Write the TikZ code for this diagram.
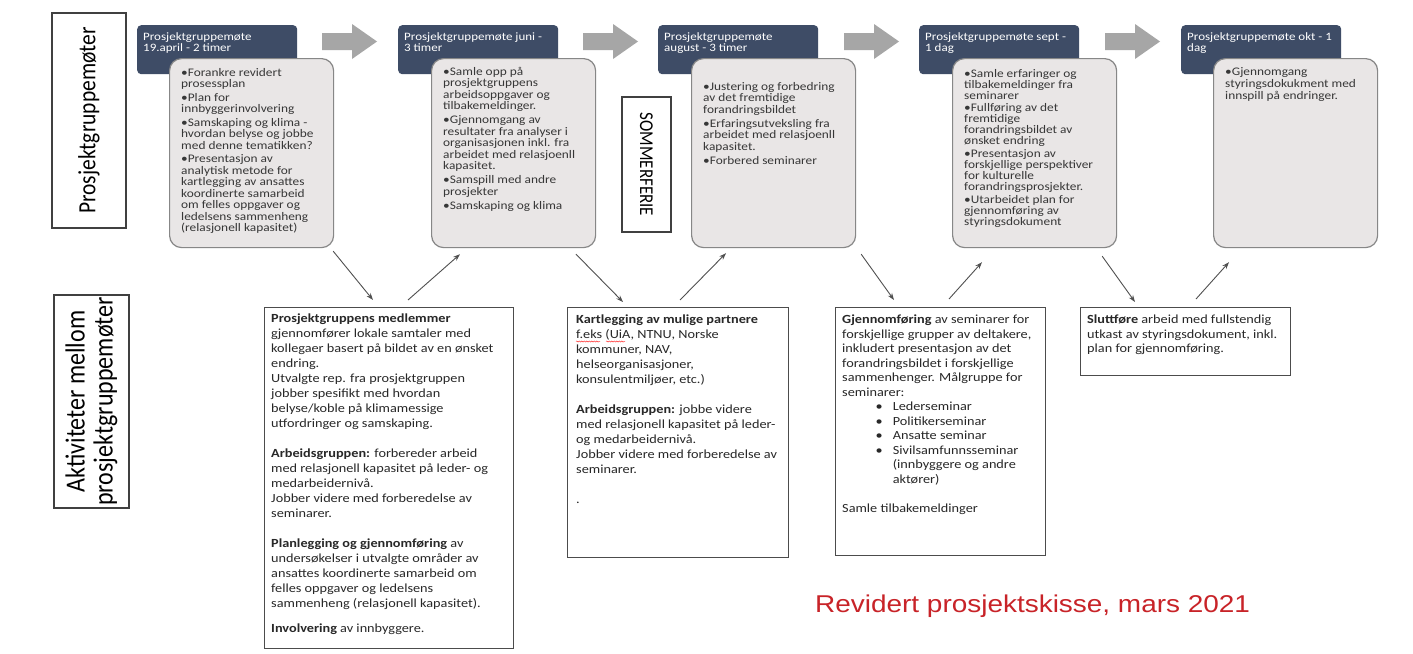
\documentclass[tikz,border=0pt]{standalone}
\usepackage{fontspec}
\setmainfont{Carlito}
\newfontfamily\arialf{Liberation Sans}
\usepackage{graphicx}
\usetikzlibrary{arrows.meta,calc,decorations.pathmorphing}
\definecolor{hdr}{RGB}{62,76,102}
\definecolor{garrow}{RGB}{166,166,166}
\definecolor{gfill}{RGB}{233,230,230}
\definecolor{gline}{RGB}{135,135,135}
\definecolor{ttxt}{RGB}{55,55,55}
\definecolor{btxt}{RGB}{40,40,40}
\definecolor{titred}{RGB}{200,35,40}
\definecolor{conncol}{RGB}{80,80,80}
\newcommand{\tb}[4]{\scalebox{1.15}[1]{\parbox[t]{#1}{\fontsize{#2}{#3}\selectfont\lineskiplimit=-100pt\lineskip=0pt\raggedright #4}}}
\begin{document}
\begin{tikzpicture}[x=1pt,y=-1pt,
  hdrbox/.style={rectangle, rounded corners=4pt, fill=hdr, minimum width=160pt, minimum height=49pt, inner sep=0pt, anchor=north west},
  graybox/.style={rectangle, rounded corners=12pt, fill=gfill, draw=gline, line width=1.2pt, minimum width=164pt, minimum height=189pt, inner sep=0pt, anchor=north west},
  actbox/.style={rectangle, draw=black!70, line width=1.2pt, fill=white, inner sep=0pt, anchor=north west},
  lblbox/.style={rectangle, draw=black!75, line width=1.1pt, inner sep=0pt},
  txt/.style={inner sep=0pt, anchor=base west},
  connarrow/.style={draw=conncol, line width=0.9pt, -{Stealth[length=7pt,width=5pt]}},
]
\useasboundingbox[fill=white] (0,0) rectangle (1413,653);

% left labels
\node[lblbox, minimum width=215pt, minimum height=74pt, rotate=90] (lab1) at (89,120.5)
  {\scalebox{1}[1.15]{\fontsize{21.5}{22}\selectfont Prosjektgruppemøter}};
\node[lblbox, minimum width=213pt, minimum height=75pt, rotate=90] (lab2) at (91.5,401.5)
  {\scalebox{1}[1.15]{\parbox{211pt}{\centering\fontsize{24}{24.3}\selectfont\lineskiplimit=-100pt Aktiviteter mellom\\prosjektgruppemøter}}};

% gray arrows between meetings
\foreach \i in {0,...,3}{
  \pgfmathsetmacro\xl{322+261*\i}
  \fill[garrow] (\xl,33) -- ++(30,0) -- ++(0,-9) -- ++(25,17.5) -- ++(-25,17.5) -- ++(0,-9) -- ++(-30,0) -- cycle;
}

% headers
\node[hdrbox] (h1) at (137,25) {};
\node[hdrbox] (h2) at (398,25) {};
\node[hdrbox] (h3) at (658,25) {};
\node[hdrbox] (h4) at (919,25) {};
\node[hdrbox] (h5) at (1181,25) {};
\node[txt, text=white] (ht1) at ($(h1.north west)+(6,15)$) {\tb{200pt}{11.3}{11}{Prosjektgruppemøte\\19.april - 2 timer}};
\node[txt, text=white] (ht2) at ($(h2.north west)+(6,15)$) {\tb{200pt}{11.3}{11}{Prosjektgruppemøte juni -\\3 timer}};
\node[txt, text=white] (ht3) at ($(h3.north west)+(6,15)$) {\tb{200pt}{11.3}{11}{Prosjektgruppemøte\\august - 3 timer}};
\node[txt, text=white] (ht4) at ($(h4.north west)+(6,15)$) {\tb{200pt}{11.3}{11}{Prosjektgruppemøte sept -\\1 dag}};
\node[txt, text=white] (ht5) at ($(h5.north west)+(6,15)$) {\tb{200pt}{11.3}{11}{Prosjektgruppemøte okt - 1\\dag}};

% gray content boxes
\node[graybox] (g1) at (169,58) {};
\node[graybox] (g2) at (431,58) {};
\node[graybox] (g3) at (691,58) {};
\node[graybox] (g4) at (952,58) {};
\node[graybox] (g5) at (1213,58) {};

\node[txt, text=ttxt] (gt1) at ($(g1.north west)+(12,18)$) {\tb{200pt}{11.6}{11.5}{%
•Forankre revidert\\prosessplan\\[2pt]
•Plan for\\innbyggerinvolvering\\[2pt]
•Samskaping og klima -\\hvordan belyse og jobbe\\med denne tematikken?\\[2pt]
•Presentasjon av\\analytisk metode for\\kartlegging av ansattes\\koordinerte samarbeid\\om felles oppgaver og\\ledelsens sammenheng\\(relasjonell kapasitet)}};
\node[txt, text=ttxt] (gt2) at ($(g2.north west)+(12,17)$) {\tb{200pt}{11.6}{11.5}{%
•Samle opp på\\prosjektgruppens\\arbeidsoppgaver og\\tilbakemeldinger.\\[2.5pt]
•Gjennomgang av\\resultater fra analyser i\\organisasjonen inkl. fra\\arbeidet med relasjoenll\\kapasitet.\\[2.5pt]
•Samspill med andre\\prosjekter\\[2.5pt]
•Samskaping og klima}};
\node[txt, text=ttxt] (gt3) at ($(g3.north west)+(12,32)$) {\tb{200pt}{11.6}{11.5}{%
•Justering og forbedring\\av det fremtidige\\forandringsbildet\\[2.5pt]
•Erfaringsutveksling fra\\arbeidet med relasjoenll\\kapasitet.\\[2.5pt]
•Forbered seminarer}};
\node[txt, text=ttxt] (gt4) at ($(g4.north west)+(12,19)$) {\tb{200pt}{11.6}{11}{%
•Samle erfaringer og\\tilbakemeldinger fra\\seminarer\\[1.7pt]
•Fullføring av det\\fremtidige\\forandringsbildet av\\ønsket endring\\[1.7pt]
•Presentasjon av\\forskjellige perspektiver\\for kulturelle\\forandringsprosjekter.\\[1.7pt]
•Utarbeidet plan for\\gjennomføring av\\styringsdokument}};
\node[txt, text=ttxt] (gt5) at ($(g5.north west)+(12,17)$) {\tb{200pt}{11.6}{12}{%
•Gjennomgang\\styringsdokukment med\\innspill på endringer.}};

% SOMMERFERIE
\node[lblbox, minimum width=135pt, minimum height=49pt, rotate=-90] (sommer) at (646.5,164.5)
  {\scalebox{1}[1.15]{\fontsize{17}{17}\selectfont SOMMERFERIE}};

% activity boxes
\node[actbox, minimum width=249pt, minimum height=341pt] (b1) at (264,307) {};
\node[actbox, minimum width=221pt, minimum height=250pt] (b2) at (567,307) {};
\node[actbox, minimum width=210pt, minimum height=248pt] (b3) at (835,307) {};
\node[actbox, minimum width=210pt, minimum height=68pt] (b4) at (1080,307) {};

\node[txt, text=btxt] (bt1) at ($(b1.north west)+(7,15.5)$) {\tb{300pt}{12.4}{15}{%
\textbf{Prosjektgruppens medlemmer}\\gjennomfører lokale samtaler med\\kollegaer basert på bildet av en ønsket\\endring.\\Utvalgte rep. fra prosjektgruppen\\jobber spesifikt med hvordan\\belyse/koble på klimamessige\\utfordringer og samskaping.\\[15pt]
\textbf{Arbeidsgruppen:} forbereder arbeid\\med relasjonell kapasitet på leder- og\\medarbeidernivå.\\Jobber videre med forberedelse av\\seminarer.\\[15pt]
\textbf{Planlegging og gjennomføring} av\\undersøkelser i utvalgte områder av\\ansattes koordinerte samarbeid om\\felles oppgaver og ledelsens\\sammenheng (relasjonell kapasitet).\\[10pt]
\textbf{Involvering} av innbyggere.}};
\node[txt, text=btxt] (bt2) at ($(b2.north west)+(9,16.5)$) {\tb{300pt}{12.4}{15}{%
\textbf{Kartlegging av mulige partnere}\\f.eks (UiA, NTNU, Norske\\kommuner, NAV,\\helseorganisasjoner,\\konsulentmiljøer, etc.)\\[15pt]
\textbf{Arbeidsgruppen:} jobbe videre\\med relasjonell kapasitet på leder-\\og medarbeidernivå.\\Jobber videre med forberedelse av\\seminarer.\\[15pt]
.}};
\draw[red!80, line width=0.5pt, decorate, decoration={snake, amplitude=0.6pt, segment length=2.5pt}]
  ($(bt2.base west)+(0,18)$) -- ++(24,0);
\draw[red!80, line width=0.5pt, decorate, decoration={snake, amplitude=0.6pt, segment length=2.5pt}]
  ($(bt2.base west)+(30,18)$) -- ++(19,0);
\node[txt, text=btxt] (bt3) at ($(b3.north west)+(7,16.5)$) {\tb{300pt}{12.4}{14.5}{%
\textbf{Gjennomføring} av seminarer for\\forskjellige grupper av deltakere,\\inkludert presentasjon av det\\forandringsbildet i forskjellige\\sammenhenger. Målgruppe for\\seminarer:\\
\hspace*{29pt}\makebox[15pt][l]{•}Lederseminar\\
\hspace*{29pt}\makebox[15pt][l]{•}Politikerseminar\\
\hspace*{29pt}\makebox[15pt][l]{•}Ansatte seminar\\
\hspace*{29pt}\makebox[15pt][l]{•}Sivilsamfunnsseminar\\
\hspace*{44pt}(innbyggere og andre\\
\hspace*{44pt}aktører)\\[14.5pt]
Samle tilbakemeldinger}};
\node[txt, text=btxt] (bt4) at ($(b4.north west)+(7,16.5)$) {\tb{300pt}{12.4}{14.5}{%
\textbf{Sluttføre} arbeid med fullstendig\\utkast av styringsdokument, inkl.\\plan for gjennomføring.}};

% connectors
\draw[connarrow] ($(g1.south east)+(-1,3)$) -- ($(b1.north west)+(109,-7)$);
\draw[connarrow] ($(b1.north west)+(144,-7)$) -- ($(g2.south west)+(29,6)$);
\draw[connarrow] ($(g2.south west)+(145,6)$) -- ($(b2.north west)+(56,-5)$);
\draw[connarrow] ($(b2.north west)+(113,-7)$) -- ($(g3.south west)+(35,5)$);
\draw[connarrow] ($(g3.south east)+(5,6)$) -- ($(b3.north west)+(59,-7)$);
\draw[connarrow] ($(b3.north west)+(114,-8)$) -- ($(g4.south west)+(30,14)$);
\draw[connarrow] ($(g4.south east)+(-15,8)$) -- ($(b4.north west)+(55,-5)$);
\draw[connarrow] ($(b4.north west)+(116,-8)$) -- ($(g5.south west)+(16,14)$);

% title
\node[txt, text=titred] (title) at (815,612) {\scalebox{1.15}[1]{\fontsize{24.3}{29}\arialf Revidert prosjektskisse, mars 2021}};
\end{tikzpicture}
\end{document}
